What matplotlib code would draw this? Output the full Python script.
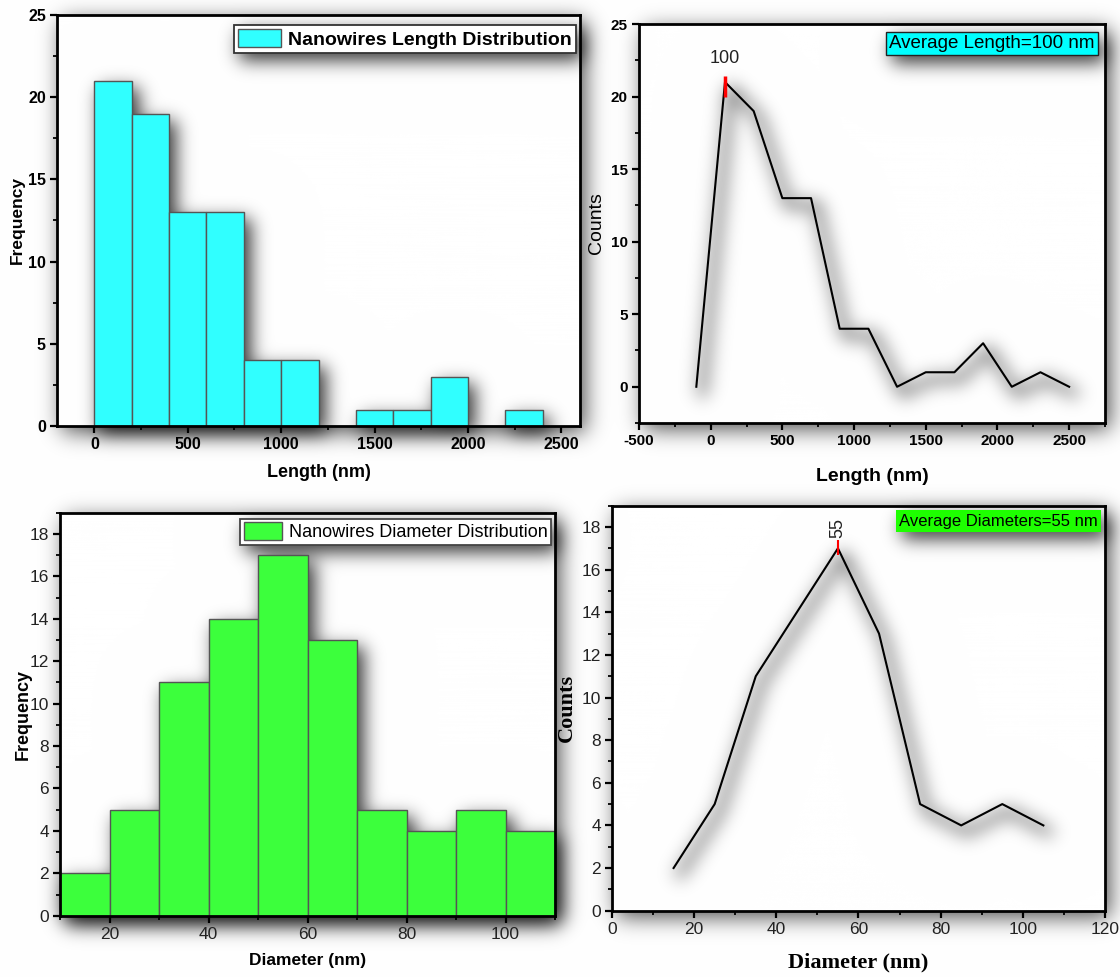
import numpy as np
import matplotlib
matplotlib.use('Agg')
import matplotlib.pyplot as plt
from matplotlib.ticker import MultipleLocator

# ---------------- data ----------------
len_edges = [0, 200, 400, 600, 800, 1000, 1200, 1400, 1600, 1800, 2000, 2200, 2400]
len_counts = [21, 19, 13, 13, 4, 4, 0, 1, 1, 3, 0, 1]
len_curve_x = [-100, 100, 300, 500, 700, 900, 1100, 1300, 1500, 1700, 1900, 2100, 2300, 2500]
len_curve_y = [0, 21, 19, 13, 13, 4, 4, 0, 1, 1, 3, 0, 1, 0]
avg_length = 100

dia_edges = [10, 20, 30, 40, 50, 60, 70, 80, 90, 100, 110]
dia_counts = [2, 5, 11, 14, 17, 13, 5, 4, 5, 4]
dia_curve_x = [15, 25, 35, 45, 55, 65, 75, 85, 95, 105]
dia_curve_y = [2, 5, 11, 14, 17, 13, 5, 4, 5, 4]
avg_diameter = 55

# ---------------- layout / style ----------------
W, H = 1120, 977
POS = [
    [0.0509, 0.564, 0.467, 0.4207],
    [0.5705, 0.567, 0.4161, 0.4084],
    [0.0536, 0.0627, 0.442, 0.4125],
    [0.5464, 0.0679, 0.4402, 0.4145],
]
CYAN = '#30FFFF'
GREEN = '#3CFF3C'
SANS = ['Liberation Sans', 'DejaVu Sans']
SERIF = ['Liberation Serif', 'DejaVu Serif']
plt.rcParams['font.family'] = SANS
plt.rcParams['axes.unicode_minus'] = False


def style_axes(ax, xmaj, xmin, ymaj, ymin, bold, size, lcolor='black'):
    for s in ax.spines.values():
        s.set_linewidth(2.0)
    ax.xaxis.set_major_locator(MultipleLocator(xmaj))
    ax.xaxis.set_minor_locator(MultipleLocator(xmin))
    ax.yaxis.set_major_locator(MultipleLocator(ymaj))
    ax.yaxis.set_minor_locator(MultipleLocator(ymin))
    ax.tick_params(which='major', direction='out', length=5, width=1.6,
                   top=False, right=False, labelsize=size, pad=3, labelcolor=lcolor)
    ax.tick_params(which='minor', direction='out', length=3, width=1.3,
                   top=False, right=False)
    if bold:
        plt.setp(ax.get_xticklabels() + ax.get_yticklabels(), fontweight='bold')


def build(fig, mask):
    lw_line = 4.5 if mask else 1.5
    # ---- panel 1: length histogram ----
    ax1 = fig.add_axes(POS[0], facecolor='none', zorder=2)
    ax1.bar(len_edges[:-1], len_counts, width=np.diff(len_edges), align='edge',
            color='k' if mask else CYAN, edgecolor='k' if mask else '#555555',
            linewidth=1.0, label='Nanowires Length Distribution')
    ax1.set_xlim(-200, 2600)
    ax1.set_ylim(0, 25)
    leg = ax1.legend(loc='upper right', bbox_to_anchor=(0.992, 0.976), borderaxespad=0,
                     prop=dict(weight='bold', size=14, family=SANS), handlelength=2.25,
                     handleheight=1.1, handletextpad=0.35, borderpad=0.2,
                     fancybox=False, framealpha=1, edgecolor='#333333')
    leg.get_frame().set_linewidth(1.3)
    if mask:
        leg.get_frame().set_facecolor('k')
    # ---- panel 2: length curve ----
    ax2 = fig.add_axes(POS[1], facecolor='none', zorder=2)
    ax2.plot(len_curve_x, len_curve_y, color='k', lw=lw_line)
    ax2.set_xlim(-500, 2750)
    ax2.set_ylim(-2.5, 25)
    ax2.text(0.978, 0.972, 'Average Length=100 nm', transform=ax2.transAxes,
             ha='right', va='top', fontsize=13.5, color='k',
             bbox=dict(boxstyle='square,pad=0.15', facecolor='k' if mask else '#00FFFF',
                       edgecolor='#222222', linewidth=1.0))
    # ---- panel 3: diameter histogram ----
    ax3 = fig.add_axes(POS[2], facecolor='none', zorder=2)
    ax3.bar(dia_edges[:-1], dia_counts, width=np.diff(dia_edges), align='edge',
            color='k' if mask else GREEN, edgecolor='k' if mask else '#555555',
            linewidth=1.0, label='Nanowires Diameter Distribution')
    ax3.set_xlim(10, 110)
    ax3.set_ylim(0, 19)
    leg3 = ax3.legend(loc='upper right', bbox_to_anchor=(0.992, 0.985), borderaxespad=0,
                      prop=dict(size=13, family=SANS), handlelength=2.15,
                      handleheight=1.15, handletextpad=0.35, borderpad=0.2,
                      fancybox=False, framealpha=1, edgecolor='#444444')
    leg3.get_frame().set_linewidth(1.3)
    if mask:
        leg3.get_frame().set_facecolor('k')
    # ---- panel 4: diameter curve ----
    ax4 = fig.add_axes(POS[3], facecolor='none', zorder=2)
    ax4.plot(dia_curve_x, dia_curve_y, color='k', lw=lw_line)
    ax4.set_xlim(0, 120)
    ax4.set_ylim(0, 19)
    ax4.text(0.985, 0.962, 'Average Diameters=55 nm', transform=ax4.transAxes,
             ha='right', va='center', fontsize=12, color='k',
             bbox=dict(boxstyle='square,pad=0.2', facecolor='k' if mask else '#1EFF00',
                       edgecolor='none'))

    if mask:
        for ax in (ax1, ax2, ax3, ax4):
            ax.set_axis_off()
        return

    # peak markers
    i = int(np.argmax(len_curve_y))
    ax2.vlines(avg_length, len_curve_y[i] - 1.0, len_curve_y[i] + 0.4, color='red', lw=2.5, zorder=5)
    ax2.text(avg_length, len_curve_y[i] + 1.6, str(avg_length), ha='center', va='center',
             fontsize=13, color='#222222')
    j = int(np.argmax(dia_curve_y))
    ax4.vlines(avg_diameter, dia_curve_y[j] - 0.3, dia_curve_y[j] + 0.4, color='red', lw=1.5, zorder=5)
    ax4.text(avg_diameter, dia_curve_y[j] + 0.95, str(avg_diameter), ha='center', va='center',
             rotation=90, fontsize=13, color='#222222')

    # axes styling
    style_axes(ax1, 500, 250, 5, 2.5, True, 11.5)
    style_axes(ax2, 500, 250, 5, 2.5, True, 11)
    style_axes(ax3, 20, 10, 2, 1, False, 12.5, '#222222')
    style_axes(ax4, 20, 10, 2, 1, False, 12.5, '#222222')

    ax1.set_xlabel('Length (nm)', fontsize=13, fontweight='bold', va='center')
    ax1.set_ylabel('Frequency', fontsize=12.5, fontweight='bold', va='center')
    ax1.xaxis.set_label_coords(0.5, -0.114)
    ax1.yaxis.set_label_coords(-0.0765, 0.5)

    ax2.set_xlabel('Length (nm)', fontsize=14, fontweight='bold', va='center')
    ax2.set_ylabel('Counts', fontsize=14, va='center')
    ax2.xaxis.set_label_coords(0.5, -0.135)
    ax2.yaxis.set_label_coords(-0.092, 0.5)

    ax3.set_xlabel('Diameter (nm)', fontsize=12.5, fontweight='bold', va='center')
    ax3.set_ylabel('Frequency', fontsize=13, fontweight='bold', va='center')
    ax3.xaxis.set_label_coords(0.5, -0.11)
    ax3.yaxis.set_label_coords(-0.0747, 0.5)

    ax4.set_xlabel('Diameter (nm)', fontsize=16, fontweight='bold', family=SERIF, va='center')
    ax4.set_ylabel('Counts', fontsize=16, fontweight='bold', family=SERIF, va='center')
    ax4.xaxis.set_label_coords(0.5, -0.129)
    ax4.yaxis.set_label_coords(-0.091, 0.5)


# ---------------- soft drop shadows ----------------
def blur(a, s):
    p = int(4 * s)
    b = np.pad(a, p)
    hh, ww = b.shape
    fy = np.fft.fftfreq(hh)[:, None]
    fx = np.fft.rfftfreq(ww)[None, :]
    G = np.exp(-2 * (np.pi * s) ** 2 * (fx ** 2 + fy ** 2))
    out = np.fft.irfft2(np.fft.rfft2(b) * G, s=b.shape)
    return out[p:-p, p:-p]


def shift(a, dx, dy):
    out = np.zeros_like(a)
    hh, ww = a.shape
    out[dy:, dx:] = a[:hh - dy, :ww - dx]
    return out


figm = plt.figure(figsize=(W / 100, H / 100), dpi=100)
build(figm, True)
figm.canvas.draw()
arr = np.asarray(figm.canvas.buffer_rgba())[:, :, :3].astype(float).mean(axis=2) / 255.0
plt.close(figm)
content = 1.0 - arr

card = np.zeros((H, W))
for l, b, w, h in POS:
    x0, x1 = int(round(l * W)), int(round((l + w) * W))
    y0, y1 = int(round((1 - b - h) * H)), int(round((1 - b) * H))
    card[y0:y1, x0:x1] = 1.0

g = 1.0 - 0.7 * blur(shift(card, 5, 6), 11)
g[card > 0] = 1.0
g = g * (1.0 - 0.78 * np.clip(blur(shift(content, 6, 7), 9), 0, 1))
g = np.clip(g, 0, 1)
rgb = np.dstack([g, g, g])

fig = plt.figure(figsize=(W / 100, H / 100), dpi=100)
axbg = fig.add_axes([0, 0, 1, 1], zorder=0)
axbg.imshow(rgb, interpolation='none', aspect='auto')
axbg.set_axis_off()
build(fig, False)
fig.savefig('out.png', dpi=100)
